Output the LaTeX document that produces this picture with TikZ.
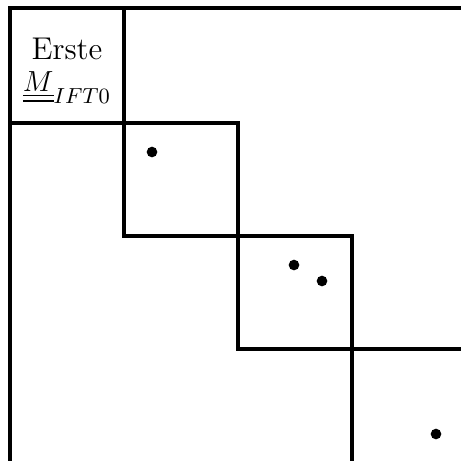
\documentclass[tikz,border=0pt]{standalone}
\usepackage{amsmath}
\usepackage{tikz}
\usetikzlibrary{positioning}

\begin{document}
\begin{tikzpicture}[
    x=0.413pt, y=-0.413pt,
    every node/.style={font=\fontsize{13}{15}\selectfont},
    blockline/.style={
        line width=1.4pt,
        line cap=rect
    },
    entry/.style={
        circle,
        fill=black,
        inner sep=0pt,
        minimum size=4.4pt
    }
]
\useasboundingbox (0,0) rectangle (460,461);

% ==================== OUTER FRAME ====================
\draw [blockline] (10,461) -- (10,8) -- (460,8);

% ==================== DIAGONAL BLOCKS ====================
\draw [blockline] (124,8) -- (124,236) -- (352,236);
\draw [blockline] (10,123) -- (238,123) -- (238,349) -- (460,349);
\draw [blockline] (352,236) -- (352,461);

% ==================== LABEL ====================
\node (first) [align=center, inner sep=0pt] at (67,71) {Erste\\[-2pt]$\underline{\underline{M}}_{\textstyle\scriptstyle IFT0}$};

% ==================== ENTRIES ====================
\node (e1) [entry] at (152,152) {};
\node (e2) [entry] at (294,265) {};
\node (e3) [entry] at (322,281) {};
\node (e4) [entry] at (436,434) {};

\end{tikzpicture}
\end{document}
